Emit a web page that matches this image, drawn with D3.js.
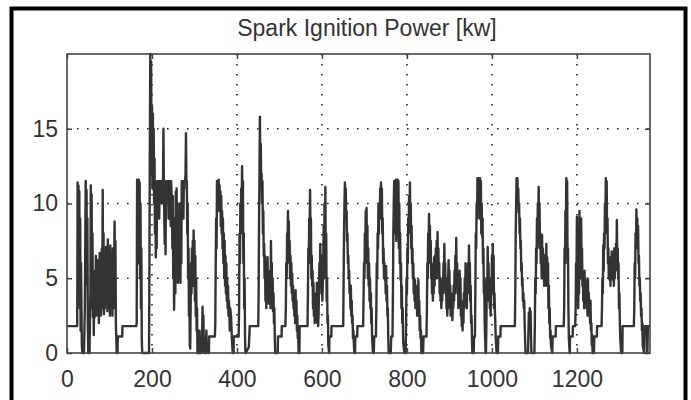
<!DOCTYPE html>
<html>
<head>
<meta charset="UTF-8">
<script src="https://d3js.org/d3.v7.min.js"></script>
<style>
  body { margin: 0; background: #fff; }
  text { font-family: "Liberation Sans", Arial, Helvetica, sans-serif; fill: #333; }
</style>
</head>
<body>
<script>
// chart text and ticks
const title = "Spark Ignition Power [kw]";
const xTicks = [0, 200, 400, 600, 800, 1000, 1200];
const yTicks = [0, 5, 10, 15];
const xMax = 1372;
const yMax = 20;

// [time s, power kW]
const trace = [
[0,1.8],[24,1.8],[25,11.4],[26,5],[27,11.2],[28,4.5],[29,10.8],[30,3],[31,9],[32,1.5],[33,6],[35,0.5],[36,0],[40,0],
[42,3],[44,11.5],[45,5],[46,10.9],[47,4.6],[48,9],[49,2],[50,0],[53,0],
[55,4],[56,11.2],[57,6],[58,10.6],[59,3],[60,8],[61,2.4],[62,5],[63,1.2],[64,3.5],
[65,2.4],[66,5.5],[67,3],[68,6.5],[69,2.5],[70,5],[71,3.2],[72,6.2],[73,2.8],[74,5.8],[75,2],[76,4.5],
[77,6.7],[78,3],[79,5.5],[80,2.5],[81,4],[82,7],[83,3],[84,10.9],[85,4],[86,8],[87,2.6],
[88,5.5],[89,3],[90,6.5],[91,4],[92,7.1],[93,3.5],[94,6],[95,2.8],[96,7.6],[97,4],[98,6.8],[99,3],[100,5.5],[101,2.5],[102,7.2],
[103,4],[104,6],[105,3],[106,5.5],[107,2.5],[108,7],[109,4],[110,3],[111,6],[112,8.8],[113,4],[114,7.5],[115,2],[117,0],[119,0],
[119.5,1.1],[130,1.1],[130.5,1.8],[163,1.8],
[164,2],[165,11.6],[166,8],[167,11.5],[168,6],[169,11.6],[170,9],[171,11.4],[172,5],[173,10],[174,3],[175,7],[176,1],[177,0],[193,0],
[194,6],[195,14],[196,20],[197,13],[198,19.5],[199,12],[200,16.5],[201,11],[202,16],[203,12],[204,15],[205,10],[206,13],[207,8],[208,11],[209,6.4],[210,9],[211,7],
[212,11.5],[216,11.5],[217,9],[218,11.5],[222,11.5],[223,10],[224,11.5],[226,11.3],[227,15],[228,11],[229,9],[230,7.3],[231,10],[232,6.6],[233,11.5],[238,11.5],[239,9],[240,11.5],[243,11.5],[244,8.5],[245,11.5],[247,10],[248,7],[249,10.5],[250,5],[251,9],[252,2.9],
[254,8],[255,4],[256,10.8],[257,6],[258,11],[259,5.5],[260,10],[261,4.7],[262,9],[263,5],[264,8.5],[265,6],
[266,10],[267,4.7],[268,9],[269,6],[270,11.5],[273,11.5],[274,9],[275,11.5],[278,11.5],[279,12],[280,14.7],[281,11],[282,11.5],[283,8],[284,10],[285,5],[286,7],[287,2.5],[288,4],[289,0.5],
[290,0.3],[291,3],[292,6],[293,4],[294,7],[295,5],[296,7.5],[297,4.5],[298,8.2],[299,5],[300,7.5],[301,3.5],[302,6.5],[303,2.5],[304,5],[305,1.5],[306,3],[307,0],
[310,0],[312,1.5],[313,0],[316,0],[318,1],[319,3.1],[320,0.5],[321,2.5],[322,0],[325,0.8],[326,0],[328,1.5],[329,0],[331,0.6],[332,0],[334,0],
[334.5,1.1],[348,1.1],
[349,2],[350,6],[351,9],[352,7],[353,11.5],[354,10],[355,11.5],[356,10.5],[357,11.6],[358,9.5],[359,11.2],[360,10],[361,10.8],[362,8.5],[363,10.5],[364,8],[365,9.5],[366,7],[367,9],[368,6],[369,8],[370,5],[371,7.5],[372,4.5],[373,6.5],[374,4],[375,6],[376,3.5],[377,5],[378,3],[379,4.5],[380,2.5],[381,3.5],[382,2.9],[383,1.5],[384,3],[386,2.5],[388,1],[390,0],[392,0],
[392.5,1.1],[404,1.1],
[405,3],[406,8],[407,6],[408,10],[409,8],[410,11],[411,9],[412,12.5],[413,10],[414,11.5],[415,6],[416,8],[417,3],[418,5],[419,1],[420,0],[421,0],[428,0.4],[430,1.8],[450,1.8],
[451,4],[452,9],[453,12],[454,15.8],[455,12],[456,14],[457,11.3],[458,12],[459,10],[460,11.5],[461,8],[462,9.5],[463,6.5],[464,7.3],[465,5],[466,6.5],[467,3.5],[468,4.5],[469,3],[470,5.5],[471,3.8],[472,6.4],[473,4],[474,5.5],[475,3.3],[476,5],[477,3.5],[478,4.8],[479,3],[480,7.5],[481,4],[482,6],[483,3],[484,5],[485,2.8],[486,4],[487,2],[488,3],[489,1],[490,0],[496,0],
[496.5,1.1],[505,1.1],[505.5,1.8],[514,1.8],
[515,3],[516,6],[517,5],[518,8],[519,7],[520,9.5],[521,7],[522,8.8],[523,6],[524,7.5],[525,5],[526,6.5],[527,4.5],[528,6],[529,4],[530,5.3],[531,3.5],[532,4.5],[533,3],[534,4],[535,2.5],[536,3.5],[537,2],[538,4.2],[539,2.2],[540,3.5],[541,1.5],[542,2.5],[543,1],[544,1.5],[545,0],[547,0],
[547.5,1.8],[566,1.8],
[567,4],[568,7],[569,6],[570,9],[571,8],[572,10.9],[573,8],[574,9],[575,5],[576,6.5],[577,4.5],[578,5.5],[579,3],[580,4.7],[581,2.5],[582,4],[583,2],[584,3.5],[585,2.2],[586,3.8],[587,2.5],[588,4.7],[589,2],[590,3],[591,1.8],[592,2.5],
[593,4],[594,6],[595,4.5],[596,7.3],[597,5],[598,6.5],[599,4],[600,5.5],[601,3.5],[602,4.5],[603,6],[604,8.5],[605,5],[606,10],[607,7],[608,11.1],[609,6],[610,8],[611,3.5],[612,5],[613,2],[614,2.5],[615,0.5],[617,0],
[617.5,1.1],[622,1.1],[622.5,1.8],[650,1.8],
[651,5],[652,8],[653,10],[654,11.4],[655,10],[656,11],[657,9],[658,9.5],[659,7.5],[660,8],[661,6],[662,6.5],[663,5],[664,5.5],[665,4],[666,4.5],[667,3],[668,4.5],[669,2.5],[670,3.5],[671,2],[672,2.5],[673,1],[674,1.5],[676,0],[678,0],
[678.5,1.1],[683,1.1],[683.5,1.8],[697,1.8],
[698,4],[699,6],[700,5],[701,8],[702,7],[703,9.5],[704,7.5],[705,9.7],[706,6],[707,8.5],[708,5],[709,7],[710,4.5],[711,6],[712,3.5],[713,5],[714,3],[715,4],[716,2],[717,3],[718,1],[719,0.5],[720,0],[722,0],
[723,1.1],[727,1.1],
[728,3],[729,6],[730,5],[731,8],[732,7],[733,9.9],[734,8],[735,10],[736,9],[737,11],[738,10],[739,11.4],[740,9],[741,11],[742,8],[743,9],[744,6],[745,7],[746,5],[747,6],[748,4.9],[749,5.5],[750,4],[751,5.8],[752,3.5],[753,4.5],[754,2.5],[755,3],[756,1],[757,0],[762,0],
[763,1.1],[766,1.1],
[767,4],[768,8],[769,10],[770,11.5],[771,8],[772,11.5],[773,9],[774,11.6],[775,7.5],[776,11.5],[777,9],[778,11.6],[779,8],[780,11.5],[781,7],[782,10],[783,6],[784,8],[785,4.9],[786,6],[787,3],[788,4.5],[789,2],[790,3],[791,1],[792,0.5],[794,0],[797,0],
[798,2],[799,5],[800,4],[801,7],[802,6],[803,9],[804,8],[805,10.5],[806,9],[807,11.4],[808,9],[809,10],[810,7],[811,8.5],[812,6],[813,7],[814,5],[815,6],[816,4],[817,5],[818,3.5],[819,4.9],[820,3],[821,4.5],[822,3],[823,4.3],[824,2.5],[825,4],[826,3],[827,4.9],[828,2.5],[829,3.5],[830,1.5],[831,2.5],[832,1],[833,1.5],[834,0],[838,0],
[839,1.1],[846,1.1],
[847,3],[848,6],[849,5],[850,8],[851,7],[852,9.3],[853,7],[854,8.5],[855,6],[856,7.5],[857,5],[858,6],[859,4],[860,5.5],[861,3.5],[862,5],[863,4],[864,6.4],[865,4.5],[866,6.5],[867,5],[868,7],[869,5],[870,7.5],[871,5.5],[872,8.1],[873,6],[874,7],[875,5],[876,6],[877,4],[878,5],[879,3.5],[880,4.5],[881,3],[882,4],[883,3.5],[884,5],[885,4],[886,6],[887,4.5],[888,7.3],[889,5],[890,6],[891,4],[892,5],[893,3],[894,4],[895,2.5],[896,3.5],
[897,5],[898,6.2],[899,4],[900,5.5],[901,3],[902,4.5],[903,2.5],[904,4],[905,2.8],[906,3.5],[907,2.2],[908,3.3],
[909,3],[910,4.5],[911,3.5],[912,5.5],[913,4],[914,6.5],[915,5],[916,7.7],[917,5],[918,6],[919,4],[920,5],[921,3],[922,4.5],[923,3.5],[924,5.5],[925,4],[926,5],[927,2.5],[928,3.5],[929,1.8],[930,2.5],[931,1.5],[932,3],
[933,2],[934,4],[935,3],[936,5],[937,3.5],[938,6],[939,4],[940,5],[941,3],[942,5.5],[943,4],[944,6],[945,4.5],[946,7.2],[947,5],[948,6],[949,3.5],[950,4.5],[951,2],[952,2.5],[953,1],[954,0],[957,0],
[958,1.1],[960,1.1],
[961,4],[962,8],[963,7],[964,10],[965,9],[966,11.7],[967,9.5],[968,11.7],[969,10],[970,11.6],[971,9],[972,11.7],[973,10],[974,11.5],[975,8],[976,10],[977,7.8],[978,9],[979,6],[980,7],[981,4],[982,5],[983,2],[984,1],[985,0],[986,0],
[987,2],[988,5],[989,4],[990,7.1],[991,5],[992,6],[993,3.5],[994,5],[995,3],[996,4],[997,2.5],[998,5],[999,4],[1000,6.5],[1001,5],[1002,7.3],[1003,5],[1004,6.5],[1005,3],[1006,4],[1007,2.8],[1008,2],[1009,1],[1010,0.5],[1011,0],[1014,0],
[1015,1.1],[1020,1.1],[1020.5,1.8],[1054,1.8],
[1055,4],[1056,8],[1057,10],[1058,11.7],[1059,11],[1060,11.7],[1061,10],[1062,11],[1063,9.4],[1064,10],[1065,8],[1066,9],[1067,7],[1068,7.5],[1069,5.5],[1070,6],[1071,4.5],[1072,5],[1073,3.5],[1074,4],[1075,3],[1076,3.5],[1077,2],[1078,1],[1079,0],[1085,0],
[1086,1.5],[1087,2.7],[1088,1.5],[1089,3],[1090,2],[1091,2.8],[1092,1],[1093,0],[1100,0],
[1101,2],[1102,5],[1103,4],[1104,7],[1105,6],[1106,9],[1107,7],[1108,10],[1109,8],[1110,11.1],[1111,8.5],[1112,10],[1113,7],[1114,8],[1115,6],[1116,7.2],[1117,5],[1118,7.9],[1119,5.5],[1120,7],[1121,5],[1122,6.5],[1123,4.5],[1124,6],[1125,5],[1126,6.6],[1127,4.5],[1128,7.3],[1129,5],[1130,6.4],[1131,4.9],[1132,6],[1133,3],[1134,4.5],[1135,2],[1136,3],[1137,1],[1138,1.5],[1139,0.5],[1142,0],
[1143,1.1],[1150,1.1],[1150.5,1.8],[1169,1.8],
[1170,3],[1171,7],[1172,6],[1173,9.5],[1174,8],[1175,11.7],[1176,10],[1177,11.5],[1178,6],[1179,7],[1180,3],[1181,1],[1183,0],
[1184,1.1],[1190,1.1],[1190.5,1.8],[1196,1.8],
[1197,3],[1198,6],[1199,5],[1200,9.1],[1201,4],[1202,7],[1203,3],[1204,6],[1205,4],[1206,9.5],[1207,6],[1208,8],[1209,5],[1210,9],[1211,6],[1212,7],[1213,4.5],[1214,5.5],[1215,3.5],[1216,4.9],[1217,3],[1218,5.5],[1219,4],[1220,5],[1221,3.5],[1222,4.7],[1223,3],[1224,4],[1225,2.5],[1226,4.9],[1227,3],[1228,4],[1229,2.5],[1230,3.5],[1231,2],[1232,3.5],[1233,1.5],[1234,2],[1235,0.5],[1236,1.2],[1237,0],[1240,0],
[1241,1.1],[1247,1.1],[1247.5,1.8],[1258,1.8],
[1259,3],[1260,5],[1261,4],[1262,7.2],[1263,5.5],[1264,8],[1265,7],[1266,10],[1267,9],[1268,11.7],[1269,10],[1270,11.5],[1271,8],[1272,9],[1273,6],[1274,7],[1275,5],[1276,6.4],[1277,4.9],[1278,6],[1279,4.5],[1280,6.4],[1281,5],[1282,6.8],[1283,5],[1284,6.5],[1285,4.9],[1286,6.2],[1287,4.5],[1288,7],[1289,5],[1290,6.5],[1291,5.5],[1292,7.3],[1293,6],[1294,8.9],[1295,6],[1296,7],[1297,5],[1298,6],[1299,3],[1300,4],[1301,2],[1302,1],[1303,0.5],[1304,0],[1307,0],
[1307.5,1.8],[1334,1.8],
[1335,3],[1336,6],[1337,5],[1338,8],[1339,7],[1340,9.6],[1341,8],[1342,9],[1343,7],[1344,8.5],[1345,6],[1346,6.5],[1347,4.5],[1348,5],[1349,3.5],[1350,4],[1351,2.5],[1352,3],[1353,1.5],[1354,2],[1355,0.5],[1358,0],
[1359,1.8],[1364,1.8],[1365,0],[1366,0],[1367,1.8],[1372,1.8]
];

const W = 691, H = 400;
const margin = {top: 54, right: 41, bottom: 47, left: 67};
const width = W - margin.left - margin.right;
const height = H - margin.top - margin.bottom;

const svg = d3.select("body").append("svg")
  .attr("width", W)
  .attr("height", H);

// scanned-page frame
svg.append("path")
  .attr("d", "M11.5,400 V8.5 H685.5 V400")
  .attr("fill", "none")
  .attr("stroke", "#000")
  .attr("stroke-width", 4);

svg.append("text")
  .attr("x", 367)
  .attr("y", 36)
  .attr("text-anchor", "middle")
  .style("font-size", "23px")
  .text(title);

const g = svg.append("g")
  .attr("transform", "translate(" + margin.left + "," + margin.top + ")");

const x = d3.scaleLinear().domain([0, xMax]).range([0, width]);
const y = d3.scaleLinear().domain([0, yMax]).range([height, 0]);

// dotted grid
g.append("g").selectAll("line")
  .data(xTicks.filter(d => d > 0))
  .enter().append("line")
    .attr("x1", d => x(d)).attr("x2", d => x(d))
    .attr("y1", 0).attr("y2", height)
    .attr("stroke", "#222").attr("stroke-width", 1.6)
    .attr("stroke-dasharray", "1.6,8.4");
g.append("g").selectAll("line")
  .data(yTicks.filter(d => d > 0))
  .enter().append("line")
    .attr("y1", d => y(d)).attr("y2", d => y(d))
    .attr("x1", 0).attr("x2", width)
    .attr("stroke", "#222").attr("stroke-width", 1.6)
    .attr("stroke-dasharray", "1.6,8.4");

// trace
const line = d3.line()
  .x(d => x(d[0]))
  .y(d => y(d[1]));
g.append("path")
  .datum(trace)
  .attr("fill", "none")
  .attr("stroke", "#333")
  .attr("stroke-width", 2.4)
  .attr("stroke-linejoin", "round")
  .attr("d", line);

// axes, matlab style: inward ticks on all four sides
const axStyle = sel => {
  sel.select(".domain").remove();
  sel.selectAll("line").attr("stroke", "#444").attr("stroke-width", 1.5);
  sel.selectAll("text").style("font-size", "23px").attr("fill", "#333");
};
g.append("g")
  .attr("transform", "translate(0," + height + ")")
  .call(d3.axisBottom(x).tickValues(xTicks).tickSize(-5).tickPadding(18).tickFormat(d3.format("d")))
  .call(axStyle);
g.append("g")
  .call(d3.axisLeft(y).tickValues(yTicks).tickSize(-5).tickPadding(9).tickFormat(d3.format("d")))
  .call(axStyle);
g.append("g")
  .call(d3.axisTop(x).tickValues(xTicks).tickSize(-5).tickFormat(""))
  .call(axStyle);
g.append("g")
  .attr("transform", "translate(" + width + ",0)")
  .call(d3.axisRight(y).tickValues(yTicks).tickSize(-5).tickFormat(""))
  .call(axStyle);

g.append("rect")
  .attr("width", width)
  .attr("height", height)
  .attr("fill", "none")
  .attr("stroke", "#444")
  .attr("stroke-width", 1.6);
</script>
</body>
</html>
